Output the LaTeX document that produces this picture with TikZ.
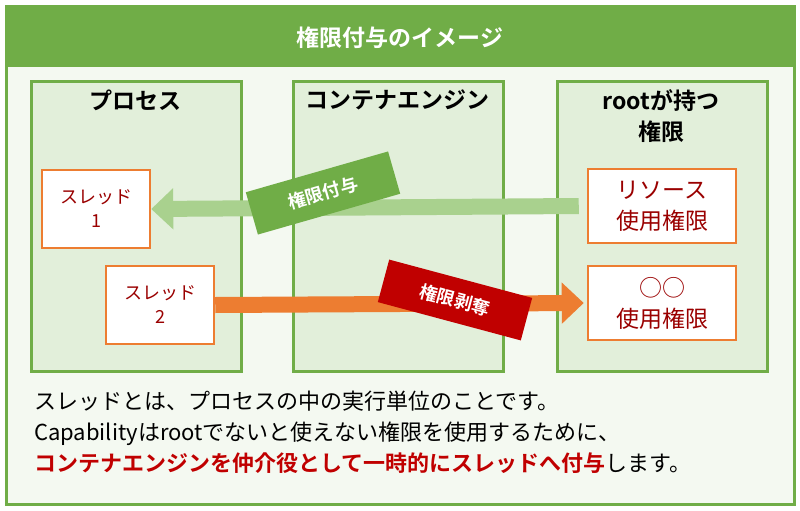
\documentclass[tikz,border=0pt]{standalone}
\usepackage{fontspec}
\setmainfont{Noto Sans CJK JP}
\newfontfamily\jpbold{Noto Sans CJK JP Bold}
\usetikzlibrary{arrows.meta, positioning}
\definecolor{FrameGreen}{RGB}{112,173,71}
\definecolor{PaleGreen}{RGB}{226,239,218}
\definecolor{BackGreen}{RGB}{244,249,241}
\definecolor{ArrowGreen}{RGB}{169,209,142}
\definecolor{BoxOrange}{RGB}{237,125,49}
\definecolor{DarkRed}{RGB}{192,0,0}

\begin{document}
\begin{tikzpicture}[x=1pt, y=-1pt,
          column/.style={rectangle, draw=FrameGreen, line width=2.5pt, fill=PaleGreen, minimum width=210pt, minimum height=290pt, anchor=north west},
          thread/.style={rectangle, draw=BoxOrange, line width=2.5pt, fill=white, minimum width=108pt, minimum height=78pt, align=center, font=\fontsize{18}{24}\selectfont, text=DarkRed!80!black},
          permbox/.style={rectangle, draw=BoxOrange, line width=2.5pt, fill=white, minimum width=148pt, minimum height=74pt, align=center, font=\fontsize{23}{31}\selectfont, text=DarkRed!80!black},
          heading/.style={font=\jpbold\fontsize{23}{31}\selectfont, align=center, anchor=north},
          tag/.style={rectangle, text=white, font=\jpbold\fontsize{18}{22}\selectfont, minimum width=148pt, minimum height=44pt},
          arrow/.style={-{Triangle[length=22pt, width=40pt]}, line width=16pt}
        ]
          \useasboundingbox (0,0) rectangle (800,511);
          \fill[white] (0,0) rectangle (800,511);
          \draw[FrameGreen, line width=3pt, fill=BackGreen] (6,7) rectangle (794,504);
          \fill[FrameGreen] (6,7) rectangle (794,67);
          \node (title) [text=white, font=\jpbold\fontsize{23}{28}\selectfont] at (400,38) {権限付与のイメージ};

          % columns
          \node (proc) [column] at (30,80) {};
          \node (engine) [column] at (292,80) {};
          \node (root) [column] at (556,80) {};
          \node [heading] at (135,86) {プロセス};
          \node [heading] at (397,86) {コンテナエンジン};
          \node [heading] at (661,86) {rootが持つ\\権限};

          % boxes
          \node (thread1) [thread] at (96,209) {スレッド\\1};
          \node (thread2) [thread] at (160,305) {スレッド\\2};
          \node (res) [permbox] at (662,206) {リソース\\使用権限};
          \node (other) [permbox] at (662,303) {○○\\使用権限};

          % arrows
          \draw [arrow, ArrowGreen] ([xshift=-8pt]res.west) -- (thread1.east);
          \draw [arrow, BoxOrange] (thread2.east) -- ([xshift=-3pt]other.west);
          \node (grant) [tag, fill=FrameGreen, rotate=16] at (323,193) {権限付与};
          \node (revoke) [tag, fill=DarkRed, rotate=-15] at (455,300) {権限剥奪};

          % caption
          \node (cap) [anchor=north west, align=left, font=\fontsize{22}{31}\selectfont, inner sep=0pt] at (34,391)
            {スレッドとは、プロセスの中の実行単位のことです。\\
             Capabilityはrootでないと使えない権限を使用するために、\\
             {\jpbold\color{DarkRed}コンテナエンジンを仲介役として一時的にスレッドへ付与}します。};
        \end{tikzpicture}
\end{document}
